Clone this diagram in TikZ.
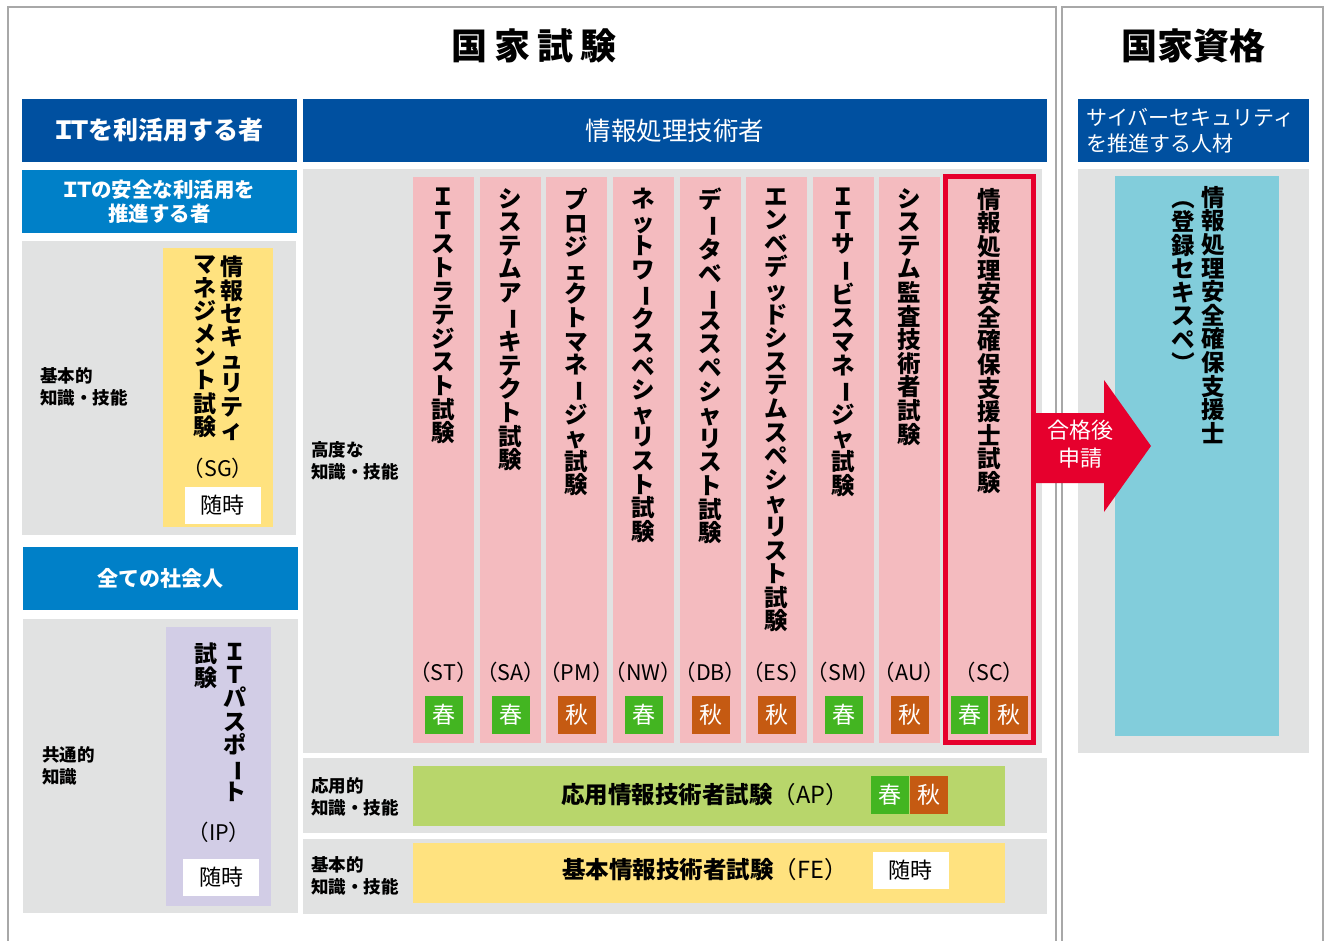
\documentclass[tikz,border=0pt]{standalone}
\usepackage{fontspec}
\setmainfont{Noto Sans CJK JP}
\definecolor{dblue}{HTML}{0050A0}
\definecolor{lblue}{HTML}{0080C8}
\definecolor{bggray}{HTML}{E1E2E2}
\definecolor{sgyellow}{HTML}{FFE27F}
\definecolor{lav}{HTML}{D2CDE6}
\definecolor{pinkc}{HTML}{F4BBBF}
\definecolor{scred}{HTML}{E6002D}
\definecolor{apgreen}{HTML}{B8D66B}
\definecolor{spring}{HTML}{43B521}
\definecolor{autumn}{HTML}{C55A12}
\definecolor{cyanbox}{HTML}{82CDDB}
\definecolor{framec}{HTML}{A8A8A8}
\newcommand\vbar{\rotatebox[origin=c]{-90}{\scalebox{0.92}[1]{ー}}}
\newcommand\vlp{\rotatebox[origin=c]{-90}{（}}
\newcommand\vrp{\rotatebox[origin=c]{-90}{）}}
\newcommand\IT{\makebox[0.66em]{Ｉ}\makebox[0.66em]{Ｔ}}
\newcommand\pcode[1]{\makebox[0.55em][r]{（}#1\makebox[0.55em][l]{）}}
\makeatletter
\def\vtend{\vtend@}
\newcommand\vt[1]{\vt@first#1\vtend}
\def\vt@first#1{#1\vt@next}
\def\vt@next#1{\ifx#1\vtend\else\\#1\expandafter\vt@next\fi}
\makeatother
\begin{document}
\begin{tikzpicture}[x=1pt,y=-1pt,
  hdr/.style={text=white, inner sep=0, align=center},
  lbl/.style={anchor=west, align=left, inner sep=0, font=\fontsize{17.5}{22}\selectfont\bfseries},
  vtxt/.style={anchor=north, align=center, inner sep=0, font=\fontsize{23.5}{23.6}\selectfont\bfseries},
  vtsg/.style={anchor=north, align=center, inner sep=0, font=\fontsize{23}{23.2}\selectfont\bfseries},
  code/.style={inner sep=0, font=\fontsize{21.5}{24}\selectfont},
  badge/.style={minimum width=38, minimum height=38, inner sep=0, text=white, font=\fontsize{23}{24}\selectfont},
  wbox/.style={fill=white, minimum width=76, minimum height=37, inner sep=0, font=\fontsize{22}{24}\selectfont},
  framel/.style={draw=framec, line width=2.5}]
\useasboundingbox (0,0) rectangle (1327,941);
\fill[white] (0,0) rectangle (1327,941);
% frames
\draw[framel] (8,941) -- (8,7) -- (1056,7) -- (1056,941);
\draw[framel] (1062,941) -- (1062,7) -- (1323,7) -- (1323,941);
% titles
\node[inner sep=0, font=\fontsize{36}{40}\selectfont\bfseries] (t1) at (534,46) {国\hspace{7pt}家\hspace{7pt}試\hspace{7pt}験};
\node[inner sep=0, font=\fontsize{36}{40}\selectfont\bfseries] (t2) at (1193,46) {国家資格};
% headers
\fill[dblue] (22,99) rectangle (297,162);
\node[hdr, font=\fontsize{25}{30}\selectfont\bfseries] (h1) at (159.5,130.5) {\IT を利活用する者};
\fill[dblue] (303,99) rectangle (1047,162);
\node[hdr, font=\fontsize{25.5}{30}\selectfont] (h2) at (675,130.5) {情報処理技術者};
\fill[dblue] (1078,99) rectangle (1309,162);
\node[hdr, anchor=west, align=left, font=\fontsize{21}{26}\selectfont] (h3) at (1086,130.5) {サイバーセキュリティ\\を推進する人材};
% left column top
\fill[lblue] (22,170) rectangle (297,233);
\node[hdr, font=\fontsize{20.5}{24}\selectfont\bfseries] (h4) at (159.5,201.5) {\IT の安全な利活用を\\推進する者};
\fill[bggray] (22,241) rectangle (296,535);
\node[lbl] (l1) at (40,387) {基本的\\知識・技能};
\fill[sgyellow] (163,248) rectangle (273,527);
\node[vtsg] (sg1) at (232,256) {\vt{情報セキュリティ}};
\node[vtsg] (sg2) at (205,256) {\vt{マネジメント試験}};
\node[code] (sgc) at (218,468) {\pcode{SG}};
\node[wbox] (sgw) at (222.5,505.5) {随時};
% left column bottom
\fill[lblue] (23,547) rectangle (298,610);
\node[hdr, font=\fontsize{21}{24}\selectfont\bfseries] (h5) at (160.5,578.5) {全ての社会人};
\fill[bggray] (23,619) rectangle (298,913);
\node[lbl] (l2) at (42,766) {共通的\\知識};
\fill[lav] (166,627) rectangle (271,906);
\node[vtsg] (ip1) at (235,643) {\vt{ＩＴパスポ\vbar ト}};
\node[vtsg] (ip2) at (206,643) {\vt{試験}};
\node[code] (ipc) at (219,832) {\pcode{IP}};
\node[wbox] (ipw) at (221,877.5) {随時};
% advanced
\fill[bggray] (303,169) rectangle (1042,753);
\node[lbl] (l3) at (311,461) {高度な\\知識・技能};
\foreach \xl/\txt/\cd/\ss/\sl [count=\i] in {
  413/{ＩＴストラテジスト試験}/ST/spring/春,
  480/{システムア\vbar キテクト試験}/SA/spring/春,
  546/{プロジェクトマネ\vbar ジャ試験}/PM/autumn/秋,
  613/{ネットワ\vbar クスペシャリスト試験}/NW/spring/春,
  680/{デ\vbar タベ\vbar ススペシャリスト試験}/DB/autumn/秋,
  746/{エンベデッドシステムスペシャリスト試験}/ES/autumn/秋,
  813/{ＩＴサ\vbar ビスマネ\vbar ジャ試験}/SM/spring/春,
  879/{システム監査技術者試験}/AU/autumn/秋}{
  \fill[pinkc] (\xl,177) rectangle (\xl+61,743);
  \node[vtxt] (col\i) at (\xl+30.5,188) {\expandafter\vt\expandafter{\txt}};
  \node[code] (code\i) at (\xl+30.5,672) {\pcode{\cd}};
  \node[badge, fill=\ss] (badge\i) at (\xl+30.5,715) {\sl};
}
% SC column
\fill[pinkc] (945.5,176.5) rectangle (1033.5,742.5);
\draw[scred, line width=5] (945.5,176.5) rectangle (1033.5,742.5);
\node[vtxt] (sc) at (989.5,188) {\vt{情報処理安全確保支援士試験}};
\node[code] (scc) at (989.5,672) {\pcode{SC}};
\node[badge, fill=spring, minimum width=37] (scb1) at (969.5,715) {春};
\node[badge, fill=autumn, minimum width=38] (scb2) at (1009,715) {秋};
% AP row
\fill[bggray] (303,758) rectangle (1047,833);
\node[lbl] (l4) at (311,797) {応用的\\知識・技能};
\fill[apgreen] (413,766) rectangle (1005,826);
\node[inner sep=0, font=\fontsize{23.5}{24}\selectfont] (ap) at (705,795) {\textbf{応用情報技術者試験}（AP）};
\node[badge, fill=spring] (apb1) at (890,795) {春};
\node[badge, fill=autumn] (apb2) at (929,795) {秋};
% FE row
\fill[bggray] (303,839) rectangle (1047,914);
\node[lbl] (l5) at (311,876) {基本的\\知識・技能};
\fill[sgyellow] (413,843) rectangle (1005,903);
\node[inner sep=0, font=\fontsize{23.5}{24}\selectfont] (fe) at (705,870) {\textbf{基本情報技術者試験}（FE）};
\node[wbox] (few) at (910.5,870.5) {随時};
% right side
\fill[bggray] (1078,169) rectangle (1309,753);
\fill[cyanbox] (1115,176) rectangle (1279,736);
\node[vtxt] (rq1) at (1213,186) {\vt{情報処理安全確保支援士}};
\node[vtxt] (rq2) at (1183,186) {\vt{\vlp 登録セキスペ\vrp}};
% arrow
\fill[scred] (1033,413) -- (1104,413) -- (1104,380) -- (1151,446) -- (1104,512) -- (1104,483) -- (1033,483) -- cycle;
\node[hdr, font=\fontsize{22}{28}\selectfont] (arr) at (1080,444) {合格後\\申請};
\end{tikzpicture}
\end{document}
